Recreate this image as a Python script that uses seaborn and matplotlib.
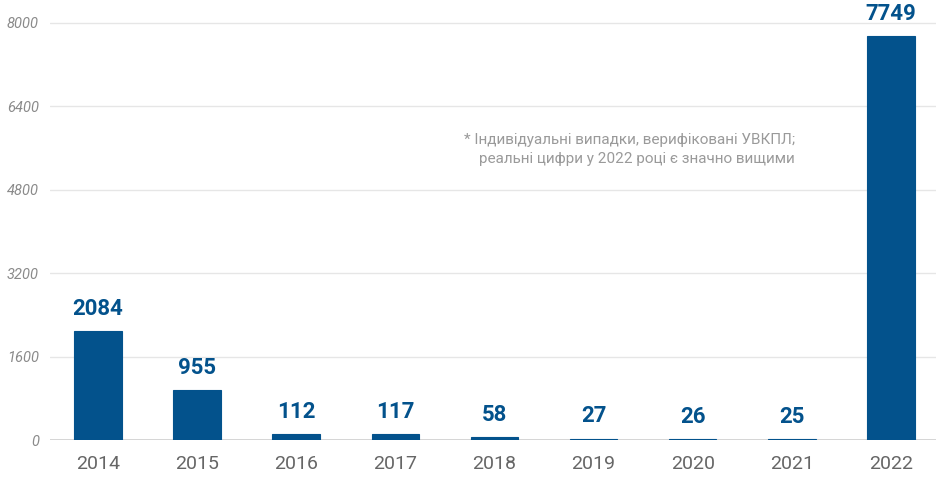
import matplotlib
matplotlib.use("Agg")
import matplotlib.pyplot as plt
import seaborn as sns
import pandas as pd

years = ["2014", "2015", "2016", "2017", "2018", "2019", "2020", "2021", "2022"]
cases = [2084, 955, 112, 117, 58, 27, 26, 25, 7749]
y_ticks = [0, 1600, 3200, 4800, 6400, 8000]
note = "* Індивідуальні випадки, верифіковані УВКПЛ;\nреальні цифри у 2022 році є значно вищими"

sns.set_style("white")
plt.rcParams["font.family"] = ["Roboto", "DejaVu Sans"]

blue = "#03528c"
df = pd.DataFrame({"year": years, "cases": cases})

fig = plt.figure(figsize=(9.36, 4.91), dpi=100)
ax = fig.add_axes([50 / 936, 51 / 491, 886 / 936, 440 / 491])

sns.barplot(data=df, x="year", y="cases", color=blue, width=0.48,
            saturation=1, edgecolor=blue, linewidth=0.8, ax=ax, zorder=3)

for i, v in enumerate(cases):
    ax.annotate(str(v), (i, v), xytext=(0, 8), textcoords="offset points",
                ha="center", va="bottom", fontsize=16, fontweight="bold",
                color=blue, zorder=4)

ax.set_xlim(-0.484, 8.455)
ax.set_ylim(0, 8440)
ax.set_yticks(y_ticks)
ax.set_yticklabels([str(t) for t in y_ticks], fontstyle="italic",
                   color="#8a8a8a", fontsize=10.5)
ax.tick_params(axis="y", length=0, pad=8)
ax.tick_params(axis="x", length=0, pad=11, labelsize=14, labelcolor="#666666")
ax.grid(axis="y", color="#e6e6e6", linewidth=1, zorder=0)
ax.axhline(0, color="#cfcfcf", linewidth=1.2, zorder=2)
for s in ax.spines.values():
    s.set_visible(False)
ax.set_xlabel("")
ax.set_ylabel("")

ax.text(7.03, 5570, note, ha="right", va="center", multialignment="right",
        fontsize=11, color="#9a9a9a", linespacing=1.45)

fig.savefig("out.png", dpi=100)
plt.close(fig)
